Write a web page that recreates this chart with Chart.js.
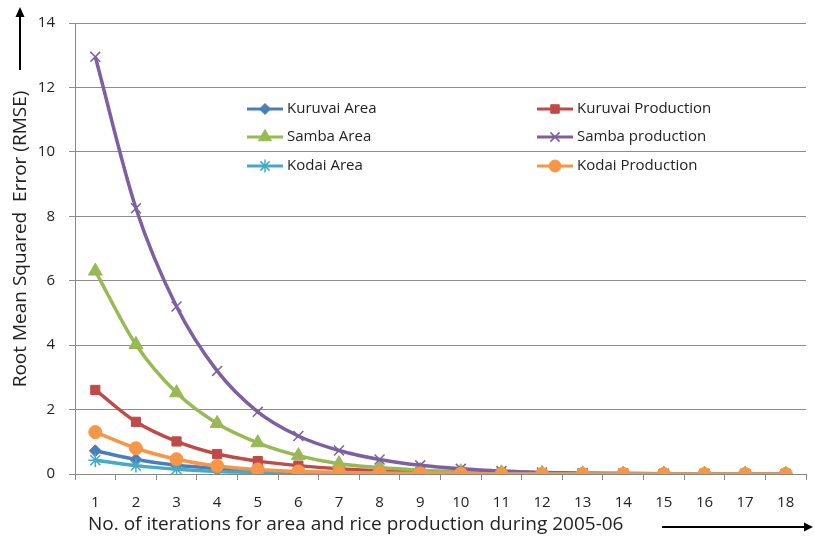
<!DOCTYPE html>
<html>
<head>
<meta charset="utf-8">
<script src="https://cdn.jsdelivr.net/npm/chart.js@4/dist/chart.umd.min.js"></script>
<style>
  html, body { margin: 0; padding: 0; background: #fff; overflow: hidden; }
  #wrap { width: 815px; height: 540px; }
</style>
</head>
<body>
<div id="wrap"><canvas id="rmse-chart" width="815" height="540"></canvas></div>
<script>
// iterations 1..18
const iterations = ['1','2','3','4','5','6','7','8','9','10','11','12','13','14','15','16','17','18'];

const kuruvaiArea       = [0.72, 0.45, 0.27, 0.17, 0.10, 0.06, 0.04, 0.02, 0.01, 0.01, 0, 0, 0, 0, 0, 0, 0, 0];
const kuruvaiProduction = [2.61, 1.62, 1.01, 0.62, 0.40, 0.26, 0.16, 0.10, 0.06, 0.04, 0.02, 0.01, 0.01, 0, 0, 0, 0, 0];
const sambaArea         = [6.30, 4.02, 2.52, 1.57, 0.97, 0.57, 0.32, 0.20, 0.12, 0.07, 0.04, 0.02, 0.01, 0, 0, 0, 0, 0];
const sambaProduction   = [12.95, 8.25, 5.20, 3.20, 1.93, 1.18, 0.73, 0.45, 0.27, 0.16, 0.09, 0.05, 0.03, 0.02, 0.01, 0, 0, 0];
const kodaiArea         = [0.43, 0.26, 0.15, 0.08, 0.05, 0.03, 0.02, 0.01, 0, 0, 0, 0, 0, 0, 0, 0, 0, 0];
const kodaiProduction   = [1.30, 0.80, 0.46, 0.25, 0.14, 0.08, 0.05, 0.03, 0.02, 0.01, 0, 0, 0, 0, 0, 0, 0, 0];

const yTicks = [0, 2, 4, 6, 8, 10, 12, 14];

const series = [
    { label: 'Kuruvai Area',       data: kuruvaiArea,       color: '#4a7ebb', style: 'rectRot',  r: 6 },
    { label: 'Kuruvai Production', data: kuruvaiProduction, color: '#be4b48', style: 'rect',     r: 6.5 },
    { label: 'Samba Area',         data: sambaArea,         color: '#98b954', style: 'triangle', r: 8 },
    { label: 'Samba production',   data: sambaProduction,   color: '#7d60a0', style: 'crossRot', r: 7 },
    { label: 'Kodai Area',         data: kodaiArea,         color: '#46aac5', style: 'star',     r: 7 },
    { label: 'Kodai Production',   data: kodaiProduction,   color: '#f79646', style: 'circle',   r: 6.5 }
];

const FONT = '"Open Sans", sans-serif';

// legend, axis titles and arrows drawn by hand
const extras = {
    id: 'extras',
    afterDraw(chart) {
        const ctx = chart.ctx;
        ctx.save();
        // legend (2 columns, 3 rows)
        const cols = [247, 537];
        const rows = [109, 137, 166];
        chart.data.datasets.forEach((ds, i) => {
            const x = cols[i % 2];
            const y = rows[Math.floor(i / 2)];
            ctx.strokeStyle = ds.borderColor;
            ctx.lineWidth = 3;
            ctx.beginPath();
            ctx.moveTo(x, y);
            ctx.lineTo(x + 36, y);
            ctx.stroke();
            ctx.fillStyle = ds.pointBackgroundColor;
            ctx.strokeStyle = ds.pointBorderColor;
            ctx.lineWidth = ds.pointBorderWidth;
            Chart.helpers.drawPoint(ctx, { pointStyle: ds.pointStyle, radius: ds.pointRadius - 0.5, borderWidth: ds.pointBorderWidth }, x + 18, y);
            ctx.fillStyle = '#222';
            ctx.font = '15px ' + FONT;
            ctx.textBaseline = 'middle';
            ctx.textAlign = 'left';
            ctx.fillText(ds.label, x + 40, y);
        });

        // y title + arrow
        ctx.fillStyle = '#222';
        ctx.font = '19px ' + FONT;
        ctx.save();
        ctx.translate(21, 239);
        ctx.rotate(-Math.PI / 2);
        ctx.textAlign = 'center';
        ctx.textBaseline = 'middle';
        ctx.fillText('Root Mean Squared  Error (RMSE)', 0, 0);
        ctx.restore();
        ctx.strokeStyle = '#000';
        ctx.lineWidth = 2;
        ctx.beginPath();
        ctx.moveTo(20, 70);
        ctx.lineTo(20, 14);
        ctx.stroke();
        ctx.beginPath();
        ctx.moveTo(20, 7);
        ctx.lineTo(15.5, 17);
        ctx.lineTo(24.5, 17);
        ctx.closePath();
        ctx.fillStyle = '#000';
        ctx.fill();

        // x title + arrow
        ctx.fillStyle = '#222';
        ctx.textAlign = 'left';
        ctx.textBaseline = 'middle';
        ctx.fillText('No. of iterations for area and rice production during 2005-06', 88, 525);
        ctx.beginPath();
        ctx.moveTo(662, 527);
        ctx.lineTo(806, 527);
        ctx.stroke();
        ctx.beginPath();
        ctx.moveTo(813, 527);
        ctx.lineTo(804, 522.5);
        ctx.lineTo(804, 531.5);
        ctx.closePath();
        ctx.fillStyle = '#000';
        ctx.fill();
        ctx.restore();
    }
};

const ctx = document.getElementById('rmse-chart').getContext('2d');
const chart = new Chart(ctx, {
    type: 'line',
    data: {
        labels: iterations,
        datasets: series.map((s, i) => ({
            label: s.label,
            data: s.data,
            borderColor: s.color,
            backgroundColor: s.color,
            pointBackgroundColor: s.color,
            pointBorderColor: s.color,
            pointBorderWidth: (s.style === 'crossRot' || s.style === 'star') ? 1.5 : 1,
            pointStyle: s.style,
            pointRadius: s.r,
            borderWidth: 3.5,
            cubicInterpolationMode: 'monotone',
            fill: false,
            order: 6 - i
        }))
    },
    options: {
        responsive: false,
        animation: false,
        layout: { padding: { top: 20, right: 0, bottom: 0, left: 0 } },
        plugins: {
            legend: { display: false },
            tooltip: { enabled: false }
        },
        scales: {
            x: {
                offset: true,
                grid: {
                    display: true,
                    drawOnChartArea: false,
                    drawTicks: true,
                    tickLength: 6,
                    color: '#888',
                    offset: true
                },
                border: { color: '#888', width: 1 },
                ticks: {
                    color: '#222',
                    padding: 14,
                    maxRotation: 0,
                    autoSkip: false,
                    font: { family: FONT, size: 15 }
                },
                afterFit(scale) { scale.height = 66; }
            },
            y: {
                min: 0,
                max: 14,
                afterBuildTicks(scale) { scale.ticks = yTicks.map(v => ({ value: v })); },
                grid: { color: '#8c8c8c', tickLength: 6, lineWidth: 1 },
                border: { color: '#888', width: 1 },
                ticks: {
                    color: '#222',
                    padding: 14,
                    font: { family: FONT, size: 15 }
                },
                afterFit(scale) { scale.width = 75; }
            }
        }
    },
    plugins: [extras]
});
</script>
</body>
</html>
